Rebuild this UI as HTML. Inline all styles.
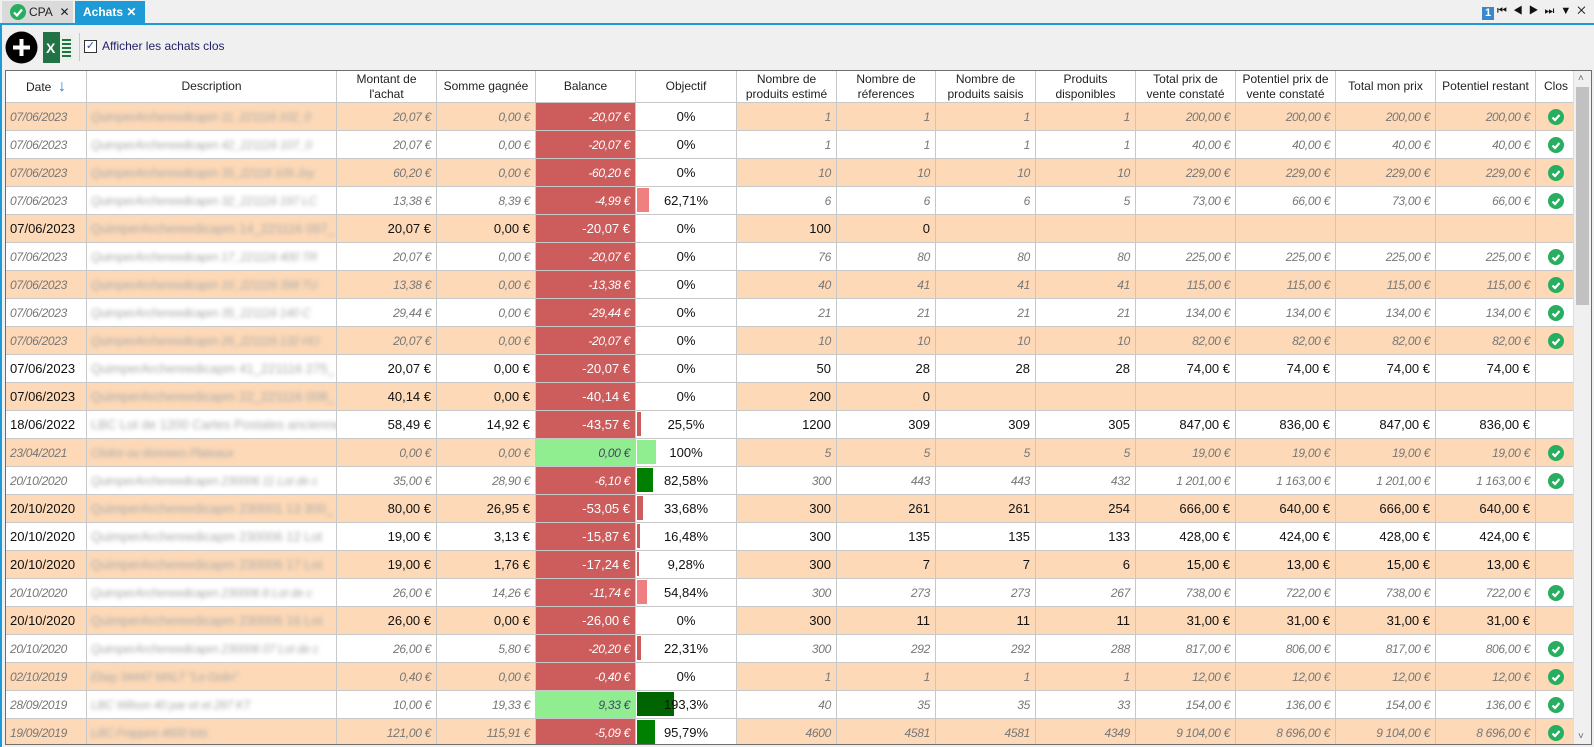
<!DOCTYPE html>
<html><head><meta charset="utf-8">
<style>
*{box-sizing:border-box;margin:0;padding:0}
body{width:1594px;height:747px;overflow:hidden;background:#f0f0f0;font-family:"Liberation Sans",sans-serif;position:relative}
.tabbar{position:absolute;left:0;top:0;width:1594px;height:23px;background:#f0f0f0}
.tab1{position:absolute;left:2px;top:1px;width:71px;height:22px;background:#dadada;font-size:12px;line-height:22px;padding-left:27px;color:#222}
.tab2{position:absolute;left:75px;top:1px;width:70px;height:22px;background:#1e9bd7;color:#fff;font-weight:bold;font-size:12px;line-height:22px;padding-left:8px}
.blue{position:absolute;left:0;top:23px;width:1594px;height:2px;background:#1e9bd7}
.lblue{position:absolute;left:0;top:23px;width:2px;height:724px;background:#1e9bd7}
.tb{position:absolute;top:25px;left:2px;width:1590px;height:45px;background:#f0f0f0}
.grid{position:absolute;left:5px;top:70px;width:1587px;height:675px;border:1px solid #6e6e6e;background:#fff;overflow:hidden}
table{border-collapse:collapse;table-layout:fixed;position:absolute;left:-1px;top:-1px;width:1571px}
th{height:32px;background:#fff;font-weight:normal;font-size:12px;color:#222;border:1px solid #c8c8c8;line-height:15px;text-align:center;overflow:hidden}
td{height:28px;border:1px solid #c8c8c8;font-size:13px;color:#111;text-align:right;padding:0 5px;white-space:nowrap;overflow:hidden;position:relative;vertical-align:middle}
tr.p td{background:#fdd9b7}
tr.w td{background:#fff}
tr.i td{font-style:italic;color:#777;font-size:12px;letter-spacing:-0.3px}
td.d{text-align:left;padding-left:4px}
td.s span{filter:blur(2.2px);color:#aaa}
tr td.b{background:#cd5c5c;color:#fff}
tr.i td.b{color:#fff}
tr td.g{background:#90ee90;color:#446}
tr td.o{background:#fff;text-align:center;color:#111;font-style:normal;font-size:13px;letter-spacing:0}
td.o i{position:absolute;left:1px;top:1px;bottom:2px}
td.o em{position:relative;font-style:normal}
td.c{text-align:center;padding:0}
td.c svg{display:block;margin:0 auto}
.sb{position:absolute;left:1573px;top:71px;width:18px;height:673px;background:#f0f0f0;border-left:1px solid #ddd}
.th{position:absolute;left:2px;top:16px;width:13px;height:218px;background:#c1c1c1}
</style></head><body>
<div class="tabbar">
 <div class="tab1"><svg style="position:absolute;left:8px;top:3px" width="16" height="16"><circle cx="8" cy="8" r="8" fill="#27ae60"/><path d="M4 8.5l3 3 5-6" stroke="#fff" stroke-width="2.2" fill="none"/></svg>CPA&nbsp;&nbsp;✕</div>
 <div class="tab2">Achats&nbsp;✕</div>
 <div style="position:absolute;left:1482px;top:7px;width:12px;height:13px;background:#3b87c9;color:#fff;font-size:11px;font-weight:bold;text-align:center;line-height:13px">1</div>
 <div style="position:absolute;left:1497px;top:5px;font-size:11px;color:#111;letter-spacing:6px">⏮◀▶⏭▼✕</div>
</div>
<div class="blue"></div><div class="lblue"></div>
<div class="tb">
 <svg style="position:absolute;left:3px;top:6px" width="33" height="33"><circle cx="16.5" cy="16.5" r="16" fill="#000"/><path d="M16.5 8v17M8 16.5h17" stroke="#fff" stroke-width="4"/></svg>
 <svg style="position:absolute;left:40px;top:7px" width="32" height="31"><rect x="10" y="3" width="21" height="25" fill="#e8f0e8"/><path d="M20 8h9M20 12h9M20 16h9M20 20h9M20 24h9" stroke="#217346" stroke-width="2"/><rect x="1" y="0" width="17" height="31" fill="#217346"/><text x="4" y="21" fill="#fff" font-size="14" font-weight="bold" font-family="Liberation Sans">X</text></svg>
 <div style="position:absolute;left:77px;top:8px;width:1px;height:28px;background:#c8c8c8"></div>
 <div style="position:absolute;left:82px;top:15px;width:13px;height:13px;border:1px solid #333;background:#fff;font-size:11px;line-height:11px;text-align:center;color:#2b4f9e">✓</div>
 <div style="position:absolute;left:100px;top:14px;font-size:12px;color:#1f1f6a">Afficher les achats clos</div>
</div>
<div class="grid">
<table>
<colgroup><col style="width:81px"><col style="width:250px"><col style="width:100px"><col style="width:99px"><col style="width:100px"><col style="width:101px"><col style="width:100px"><col style="width:99px"><col style="width:100px"><col style="width:100px"><col style="width:100px"><col style="width:100px"><col style="width:100px"><col style="width:100px"><col style="width:41px"></colgroup>
<tr><th>Date &nbsp;<span style="color:#1e7fd0;font-size:16px">↓</span></th><th>Description</th><th>Montant de<br>l'achat</th><th>Somme gagnée</th><th>Balance</th><th>Objectif</th><th>Nombre de<br>produits estimé</th><th>Nombre de<br>réferences</th><th>Nombre de<br>produits saisis</th><th>Produits<br>disponibles</th><th>Total prix de<br>vente constaté</th><th>Potentiel prix de<br>vente constaté</th><th>Total mon prix</th><th>Potentiel restant</th><th>Clos</th></tr>
<tr class="p i"><td class="d">07/06/2023</td><td class="d s"><span>QuimperArchereedicapm 11_221116 102_0</span></td><td>20,07 €</td><td>0,00 €</td><td class="b">-20,07 €</td><td class="o"><em>0%</em></td><td>1</td><td>1</td><td>1</td><td>1</td><td>200,00 €</td><td>200,00 €</td><td>200,00 €</td><td>200,00 €</td><td class="c"><svg width="16" height="16"><circle cx="8" cy="8" r="8" fill="#27ae60"/><path d="M4.5 8.5l2.5 2.5 4.5-5" stroke="#fff" stroke-width="2.2" fill="none"/></svg></td></tr>
<tr class="w i"><td class="d">07/06/2023</td><td class="d s"><span>QuimperArchereedicapm 42_221116 107_0</span></td><td>20,07 €</td><td>0,00 €</td><td class="b">-20,07 €</td><td class="o"><em>0%</em></td><td>1</td><td>1</td><td>1</td><td>1</td><td>40,00 €</td><td>40,00 €</td><td>40,00 €</td><td>40,00 €</td><td class="c"><svg width="16" height="16"><circle cx="8" cy="8" r="8" fill="#27ae60"/><path d="M4.5 8.5l2.5 2.5 4.5-5" stroke="#fff" stroke-width="2.2" fill="none"/></svg></td></tr>
<tr class="p i"><td class="d">07/06/2023</td><td class="d s"><span>QuimperArchereedicapm 35_22118 109 Joy</span></td><td>60,20 €</td><td>0,00 €</td><td class="b">-60,20 €</td><td class="o"><em>0%</em></td><td>10</td><td>10</td><td>10</td><td>10</td><td>229,00 €</td><td>229,00 €</td><td>229,00 €</td><td>229,00 €</td><td class="c"><svg width="16" height="16"><circle cx="8" cy="8" r="8" fill="#27ae60"/><path d="M4.5 8.5l2.5 2.5 4.5-5" stroke="#fff" stroke-width="2.2" fill="none"/></svg></td></tr>
<tr class="w i"><td class="d">07/06/2023</td><td class="d s"><span>QuimperArchereedicapm 32_221116 197 LC</span></td><td>13,38 €</td><td>8,39 €</td><td class="b">-4,99 €</td><td class="o"><i style="width:12px;background:#f08080"></i><em>62,71%</em></td><td>6</td><td>6</td><td>6</td><td>5</td><td>73,00 €</td><td>66,00 €</td><td>73,00 €</td><td>66,00 €</td><td class="c"><svg width="16" height="16"><circle cx="8" cy="8" r="8" fill="#27ae60"/><path d="M4.5 8.5l2.5 2.5 4.5-5" stroke="#fff" stroke-width="2.2" fill="none"/></svg></td></tr>
<tr class="p"><td class="d">07/06/2023</td><td class="d s"><span>QuimperArchereedicapm 14_221116 097_</span></td><td>20,07 €</td><td>0,00 €</td><td class="b">-20,07 €</td><td class="o"><em>0%</em></td><td>100</td><td>0</td><td></td><td></td><td></td><td></td><td></td><td></td><td></td></tr>
<tr class="w i"><td class="d">07/06/2023</td><td class="d s"><span>QuimperArchereedicapm 17_221116 400 TR</span></td><td>20,07 €</td><td>0,00 €</td><td class="b">-20,07 €</td><td class="o"><em>0%</em></td><td>76</td><td>80</td><td>80</td><td>80</td><td>225,00 €</td><td>225,00 €</td><td>225,00 €</td><td>225,00 €</td><td class="c"><svg width="16" height="16"><circle cx="8" cy="8" r="8" fill="#27ae60"/><path d="M4.5 8.5l2.5 2.5 4.5-5" stroke="#fff" stroke-width="2.2" fill="none"/></svg></td></tr>
<tr class="p i"><td class="d">07/06/2023</td><td class="d s"><span>QuimperArchereedicapm 10_221116 398 TU</span></td><td>13,38 €</td><td>0,00 €</td><td class="b">-13,38 €</td><td class="o"><em>0%</em></td><td>40</td><td>41</td><td>41</td><td>41</td><td>115,00 €</td><td>115,00 €</td><td>115,00 €</td><td>115,00 €</td><td class="c"><svg width="16" height="16"><circle cx="8" cy="8" r="8" fill="#27ae60"/><path d="M4.5 8.5l2.5 2.5 4.5-5" stroke="#fff" stroke-width="2.2" fill="none"/></svg></td></tr>
<tr class="w i"><td class="d">07/06/2023</td><td class="d s"><span>QuimperArchereedicapm 35_221116 140 C</span></td><td>29,44 €</td><td>0,00 €</td><td class="b">-29,44 €</td><td class="o"><em>0%</em></td><td>21</td><td>21</td><td>21</td><td>21</td><td>134,00 €</td><td>134,00 €</td><td>134,00 €</td><td>134,00 €</td><td class="c"><svg width="16" height="16"><circle cx="8" cy="8" r="8" fill="#27ae60"/><path d="M4.5 8.5l2.5 2.5 4.5-5" stroke="#fff" stroke-width="2.2" fill="none"/></svg></td></tr>
<tr class="p i"><td class="d">07/06/2023</td><td class="d s"><span>QuimperArchereedicapm 26_221116 132 HO</span></td><td>20,07 €</td><td>0,00 €</td><td class="b">-20,07 €</td><td class="o"><em>0%</em></td><td>10</td><td>10</td><td>10</td><td>10</td><td>82,00 €</td><td>82,00 €</td><td>82,00 €</td><td>82,00 €</td><td class="c"><svg width="16" height="16"><circle cx="8" cy="8" r="8" fill="#27ae60"/><path d="M4.5 8.5l2.5 2.5 4.5-5" stroke="#fff" stroke-width="2.2" fill="none"/></svg></td></tr>
<tr class="w"><td class="d">07/06/2023</td><td class="d s"><span>QuimperArchereedicapm 41_221116 275_</span></td><td>20,07 €</td><td>0,00 €</td><td class="b">-20,07 €</td><td class="o"><em>0%</em></td><td>50</td><td>28</td><td>28</td><td>28</td><td>74,00 €</td><td>74,00 €</td><td>74,00 €</td><td>74,00 €</td><td></td></tr>
<tr class="p"><td class="d">07/06/2023</td><td class="d s"><span>QuimperArchereedicapm 22_221116 008_</span></td><td>40,14 €</td><td>0,00 €</td><td class="b">-40,14 €</td><td class="o"><em>0%</em></td><td>200</td><td>0</td><td></td><td></td><td></td><td></td><td></td><td></td><td></td></tr>
<tr class="w"><td class="d">18/06/2022</td><td class="d s"><span>LBC Lot de 1200 Cartes Postales anciennes</span></td><td>58,49 €</td><td>14,92 €</td><td class="b">-43,57 €</td><td class="o"><i style="width:4px;background:#cd5c5c"></i><em>25,5%</em></td><td>1200</td><td>309</td><td>309</td><td>305</td><td>847,00 €</td><td>836,00 €</td><td>847,00 €</td><td>836,00 €</td><td></td></tr>
<tr class="p i"><td class="d">23/04/2021</td><td class="d s"><span>Cloitre ou donnees Plateaux</span></td><td>0,00 €</td><td>0,00 €</td><td class="g">0,00 €</td><td class="o"><i style="width:19px;background:#90ee90"></i><em>100%</em></td><td>5</td><td>5</td><td>5</td><td>5</td><td>19,00 €</td><td>19,00 €</td><td>19,00 €</td><td>19,00 €</td><td class="c"><svg width="16" height="16"><circle cx="8" cy="8" r="8" fill="#27ae60"/><path d="M4.5 8.5l2.5 2.5 4.5-5" stroke="#fff" stroke-width="2.2" fill="none"/></svg></td></tr>
<tr class="w i"><td class="d">20/10/2020</td><td class="d s"><span>QuimperArchereedicapm 230006 11 Lot de c</span></td><td>35,00 €</td><td>28,90 €</td><td class="b">-6,10 €</td><td class="o"><i style="width:16px;background:#008000"></i><em>82,58%</em></td><td>300</td><td>443</td><td>443</td><td>432</td><td>1 201,00 €</td><td>1 163,00 €</td><td>1 201,00 €</td><td>1 163,00 €</td><td class="c"><svg width="16" height="16"><circle cx="8" cy="8" r="8" fill="#27ae60"/><path d="M4.5 8.5l2.5 2.5 4.5-5" stroke="#fff" stroke-width="2.2" fill="none"/></svg></td></tr>
<tr class="p"><td class="d">20/10/2020</td><td class="d s"><span>QuimperArchereedicapm 230001 13 300_</span></td><td>80,00 €</td><td>26,95 €</td><td class="b">-53,05 €</td><td class="o"><i style="width:6px;background:#cd5c5c"></i><em>33,68%</em></td><td>300</td><td>261</td><td>261</td><td>254</td><td>666,00 €</td><td>640,00 €</td><td>666,00 €</td><td>640,00 €</td><td></td></tr>
<tr class="w"><td class="d">20/10/2020</td><td class="d s"><span>QuimperArchereedicapm 230006 12 Lot</span></td><td>19,00 €</td><td>3,13 €</td><td class="b">-15,87 €</td><td class="o"><i style="width:3px;background:#cd5c5c"></i><em>16,48%</em></td><td>300</td><td>135</td><td>135</td><td>133</td><td>428,00 €</td><td>424,00 €</td><td>428,00 €</td><td>424,00 €</td><td></td></tr>
<tr class="p"><td class="d">20/10/2020</td><td class="d s"><span>QuimperArchereedicapm 230006 17 Lot</span></td><td>19,00 €</td><td>1,76 €</td><td class="b">-17,24 €</td><td class="o"><i style="width:2px;background:#cd5c5c"></i><em>9,28%</em></td><td>300</td><td>7</td><td>7</td><td>6</td><td>15,00 €</td><td>13,00 €</td><td>15,00 €</td><td>13,00 €</td><td></td></tr>
<tr class="w i"><td class="d">20/10/2020</td><td class="d s"><span>QuimperArchereedicapm 230006 8 Lot de c</span></td><td>26,00 €</td><td>14,26 €</td><td class="b">-11,74 €</td><td class="o"><i style="width:10px;background:#f08080"></i><em>54,84%</em></td><td>300</td><td>273</td><td>273</td><td>267</td><td>738,00 €</td><td>722,00 €</td><td>738,00 €</td><td>722,00 €</td><td class="c"><svg width="16" height="16"><circle cx="8" cy="8" r="8" fill="#27ae60"/><path d="M4.5 8.5l2.5 2.5 4.5-5" stroke="#fff" stroke-width="2.2" fill="none"/></svg></td></tr>
<tr class="p"><td class="d">20/10/2020</td><td class="d s"><span>QuimperArchereedicapm 230006 16 Lot</span></td><td>26,00 €</td><td>0,00 €</td><td class="b">-26,00 €</td><td class="o"><em>0%</em></td><td>300</td><td>11</td><td>11</td><td>11</td><td>31,00 €</td><td>31,00 €</td><td>31,00 €</td><td>31,00 €</td><td></td></tr>
<tr class="w i"><td class="d">20/10/2020</td><td class="d s"><span>QuimperArchereedicapm 230006 07 Lot de c</span></td><td>26,00 €</td><td>5,80 €</td><td class="b">-20,20 €</td><td class="o"><i style="width:4px;background:#cd5c5c"></i><em>22,31%</em></td><td>300</td><td>292</td><td>292</td><td>288</td><td>817,00 €</td><td>806,00 €</td><td>817,00 €</td><td>806,00 €</td><td class="c"><svg width="16" height="16"><circle cx="8" cy="8" r="8" fill="#27ae60"/><path d="M4.5 8.5l2.5 2.5 4.5-5" stroke="#fff" stroke-width="2.2" fill="none"/></svg></td></tr>
<tr class="p i"><td class="d">02/10/2019</td><td class="d s"><span>Ebay 34447 MALT "Le Gelin"</span></td><td>0,40 €</td><td>0,00 €</td><td class="b">-0,40 €</td><td class="o"><em>0%</em></td><td>1</td><td>1</td><td>1</td><td>1</td><td>12,00 €</td><td>12,00 €</td><td>12,00 €</td><td>12,00 €</td><td class="c"><svg width="16" height="16"><circle cx="8" cy="8" r="8" fill="#27ae60"/><path d="M4.5 8.5l2.5 2.5 4.5-5" stroke="#fff" stroke-width="2.2" fill="none"/></svg></td></tr>
<tr class="w i"><td class="d">28/09/2019</td><td class="d s"><span>LBC Wilson 40 par et et 287 KT</span></td><td>10,00 €</td><td>19,33 €</td><td class="g">9,33 €</td><td class="o"><i style="width:37px;background:#006400"></i><em>193,3%</em></td><td>40</td><td>35</td><td>35</td><td>33</td><td>154,00 €</td><td>136,00 €</td><td>154,00 €</td><td>136,00 €</td><td class="c"><svg width="16" height="16"><circle cx="8" cy="8" r="8" fill="#27ae60"/><path d="M4.5 8.5l2.5 2.5 4.5-5" stroke="#fff" stroke-width="2.2" fill="none"/></svg></td></tr>
<tr class="p i"><td class="d">19/09/2019</td><td class="d s"><span>LBC Frappes 4600 lots</span></td><td>121,00 €</td><td>115,91 €</td><td class="b">-5,09 €</td><td class="o"><i style="width:18px;background:#008000"></i><em>95,79%</em></td><td>4600</td><td>4581</td><td>4581</td><td>4349</td><td>9 104,00 €</td><td>8 696,00 €</td><td>9 104,00 €</td><td>8 696,00 €</td><td class="c"><svg width="16" height="16"><circle cx="8" cy="8" r="8" fill="#27ae60"/><path d="M4.5 8.5l2.5 2.5 4.5-5" stroke="#fff" stroke-width="2.2" fill="none"/></svg></td></tr>
</table>
</div>
<div class="sb"><div style="position:absolute;left:4px;top:2px;font-size:10px;color:#666">˄</div><div class="th"></div><div style="position:absolute;left:4px;bottom:2px;font-size:10px;color:#666">˅</div></div>
</body></html>
